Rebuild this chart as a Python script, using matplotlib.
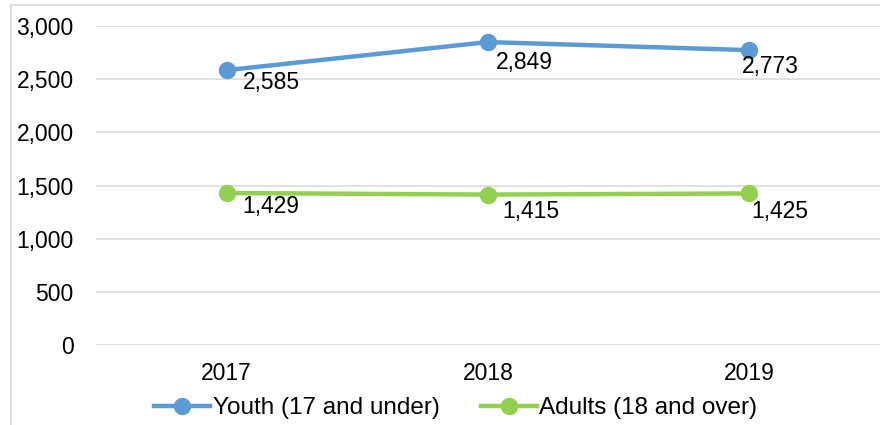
import matplotlib
matplotlib.use('Agg')
from matplotlib import pyplot as plt
from matplotlib.lines import Line2D

plt.rcParams['font.family'] = ['Liberation Sans', 'DejaVu Sans']
plt.rcParams['font.size'] = 16.5

years = ['2017', '2018', '2019']
youth = [2585, 2849, 2773]
adults = [1429, 1415, 1425]

# label offsets (points) from each marker
youth_off = [(32, -9), (26, -15), (15, -12)]
adult_off = [(32, -10), (31, -12), (22, -13)]

blue = '#5B9BD5'
green = '#92D050'
grid = '#d9d9d9'

fig = plt.figure(figsize=(8.8, 4.25), dpi=100)
ax = fig.add_axes([96 / 880, 80 / 425, 784 / 880, 319 / 425])

x = [i + 0.5 for i in range(len(years))]
ax.plot(x, youth, color=blue, lw=3.2, marker='o', ms=11.5, label='Youth (17 and under)')
ax.plot(x, adults, color=green, lw=3.2, marker='o', ms=11.5, label='Adults (18 and over)')

for xi, v, off in zip(x, youth, youth_off):
    ax.annotate(f'{v:,}', (xi, v), xytext=off, textcoords='offset points',
                ha='center', va='center')
for xi, v, off in zip(x, adults, adult_off):
    ax.annotate(f'{v:,}', (xi, v), xytext=off, textcoords='offset points',
                ha='center', va='center')

ax.set_xlim(0, 3)
ax.set_ylim(0, 3000)
ax.set_yticks(range(0, 3001, 500))
ax.set_yticklabels([f'{t:,}' for t in range(0, 3001, 500)])
ax.set_xticks(x)
ax.set_xticklabels(years)
ax.tick_params(axis='y', length=0, pad=16)
ax.tick_params(axis='x', length=0, pad=12)
ax.yaxis.grid(True, color=grid, lw=1.1)
ax.set_axisbelow(True)
for s in ax.spines.values():
    s.set_visible(False)

# chart frame edges
fig.add_artist(Line2D([11 / 880, 1], [1 - 5 / 425] * 2, color=grid, lw=1.2))
fig.add_artist(Line2D([11 / 880] * 2, [0, 1 - 5 / 425], color=grid, lw=1.2))

fig.legend(loc='center', bbox_to_anchor=(0.518, 1 - 408 / 425), ncol=2, frameon=False,
           fontsize=17.5, handlelength=2.3, handletextpad=0.1, columnspacing=1.7,
           borderaxespad=0)

fig.savefig('out.png', dpi=100)
